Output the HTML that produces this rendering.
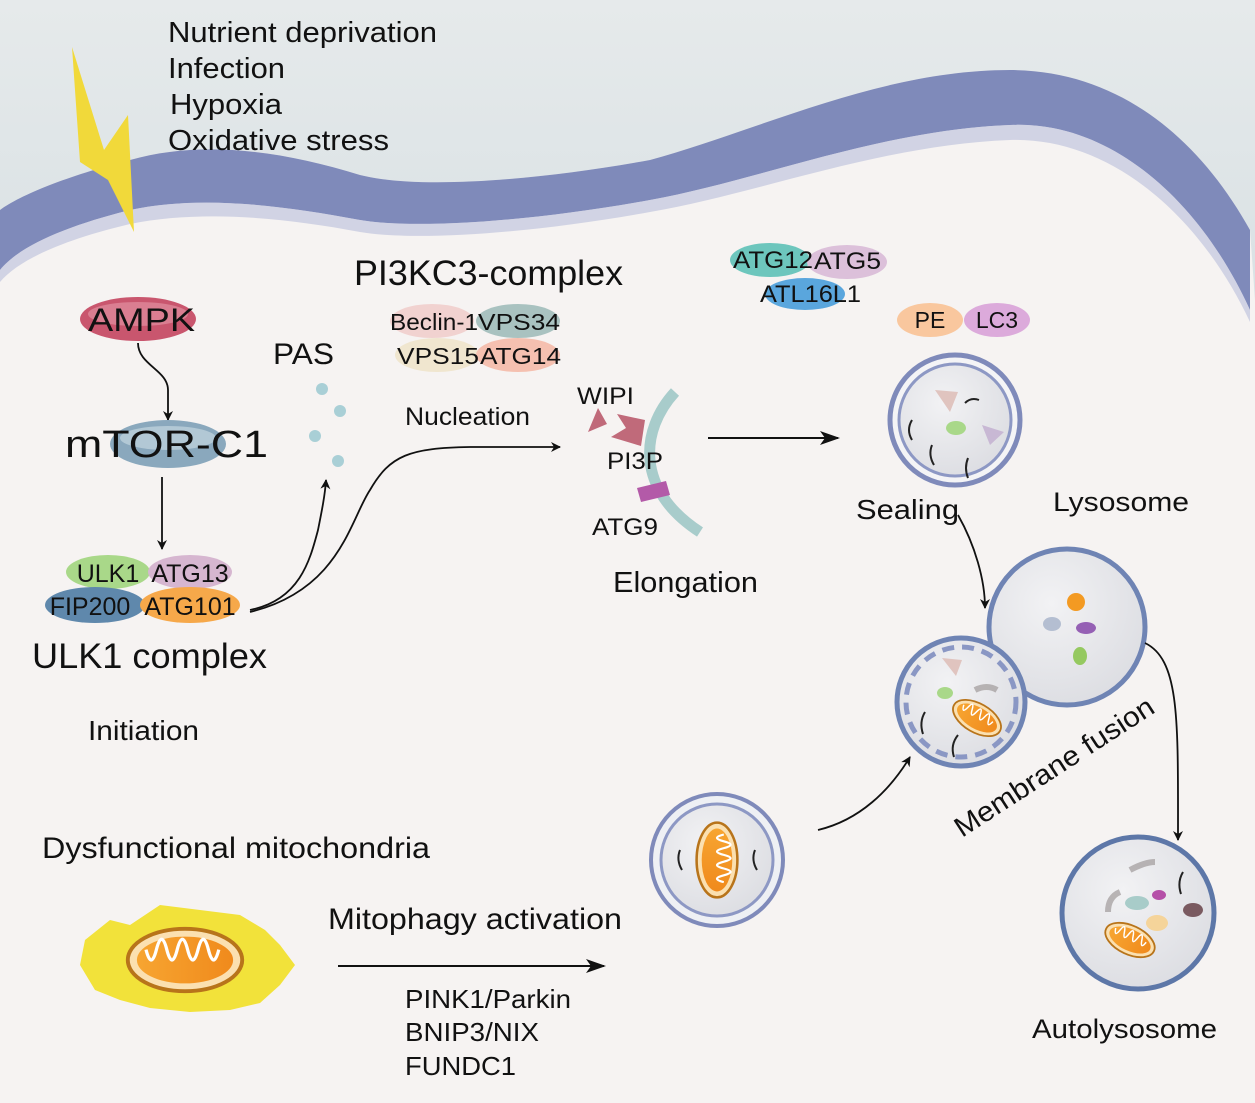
<!DOCTYPE html>
<html><head><meta charset="utf-8"><style>
html,body{margin:0;padding:0;background:#fff}
svg{display:block}
text{font-family:"Liberation Sans",sans-serif;fill:#111}
</style></head><body>
<svg width="1255" height="1103" viewBox="0 0 1255 1103" xmlns="http://www.w3.org/2000/svg">
<defs>
<radialGradient id="ves" cx="0.4" cy="0.35" r="0.7"><stop offset="0" stop-color="#f2f2f4"/><stop offset="1" stop-color="#dcdde2"/></radialGradient>
<linearGradient id="mito" x1="0" x2="1"><stop offset="0" stop-color="#f7a531"/><stop offset="1" stop-color="#f08a1c"/></linearGradient>
<linearGradient id="sky" x1="0" y1="0" x2="0" y2="1"><stop offset="0" stop-color="#e6eaeb"/><stop offset="1" stop-color="#d9e1e4"/></linearGradient>
<marker id="ar" markerWidth="10" markerHeight="10" refX="9" refY="5" orient="auto" markerUnits="userSpaceOnUse"><path d="M0,0 L10,5 L0,10 L3,5 Z" fill="#111"/></marker>
<marker id="ar2" markerWidth="20" markerHeight="14" refX="18" refY="7" orient="auto" markerUnits="userSpaceOnUse"><path d="M0,0 L20,7 L0,14 L5,7 Z" fill="#111"/></marker>
<g id="mt"><ellipse cx="0" cy="0" rx="44" ry="24" fill="#fbe0b0" stroke="#b8741a" stroke-width="3"/><ellipse cx="0" cy="0" rx="37" ry="18" fill="url(#mito)"/><path d="M-30,-8 q4,16 8,0 q4,-16 8,0 q4,16 8,0 q4,-16 8,0 q4,16 8,0 q4,-16 8,0 q4,16 8,0" fill="none" stroke="#fff" stroke-width="2.5"/></g>
</defs>
<rect width="1255" height="1103" fill="#f6f3f2"/>
<path d="M0,0 H1255 V300 L1250,230 C1200,140 1120,70 1010,70 C880,70 760,130 650,160 C540,180 420,190 360,175 C280,150 200,140 130,160 C70,175 20,195 0,210 Z" fill="url(#sky)"/>
<path d="M0,210 C20,195 70,175 130,160 C200,140 280,150 360,175 C420,190 540,180 650,160 C760,130 880,70 1010,70 C1120,70 1200,140 1250,230 L1250,310 C1200,200 1110,120 1010,125 C880,130 760,180 650,200 C540,220 420,230 360,220 C280,205 200,195 130,210 C70,225 20,245 0,270 Z" fill="#7f8aba"/>
<path d="M0,270 C20,245 70,225 130,210 C200,195 280,205 360,220 C420,230 540,220 650,200 C760,180 880,130 1010,125 C1110,120 1200,200 1250,310 L1250,322 C1200,215 1110,137 1010,140 C880,145 760,193 650,212 C540,232 420,242 360,232 C280,217 200,210 130,224 C70,238 20,258 0,282 Z" fill="#b9bedb" opacity="0.6"/>
<polygon points="72,47 104,150 128,115 134,232 108,180 80,162" fill="#f1d93a"/>
<text x="168" y="42" font-size="29" textLength="269" lengthAdjust="spacingAndGlyphs">Nutrient deprivation</text>
<text x="168" y="78" font-size="29" textLength="117" lengthAdjust="spacingAndGlyphs">Infection</text>
<text x="170" y="114" font-size="29" textLength="112" lengthAdjust="spacingAndGlyphs">Hypoxia</text>
<text x="168" y="150" font-size="29" textLength="221" lengthAdjust="spacingAndGlyphs">Oxidative stress</text>

<ellipse cx="138" cy="319" rx="58" ry="22" fill="#c9566e"/>
<ellipse cx="138" cy="314" rx="50" ry="12" fill="#e69aa8" opacity="0.6"/>
<text x="88" y="331" font-size="32" textLength="107" lengthAdjust="spacingAndGlyphs">AMPK</text>
<path d="M138,343 C138,365 168,370 168,390 L168,420" fill="none" stroke="#111" stroke-width="1.8" marker-end="url(#ar)"/>
<ellipse cx="168" cy="444" rx="58" ry="24" fill="#8aa8bd"/>
<ellipse cx="168" cy="438" rx="48" ry="12" fill="#c3d5e0" opacity="0.7"/>
<text x="65" y="457" font-size="38" textLength="203" lengthAdjust="spacingAndGlyphs">mTOR-C1</text>
<line x1="162" y1="477" x2="162" y2="549" stroke="#111" stroke-width="1.8" marker-end="url(#ar)"/>
<ellipse cx="108" cy="572" rx="42" ry="17" fill="#a9d889"/>
<ellipse cx="190" cy="572" rx="42" ry="17" fill="#d6b6d0"/>
<ellipse cx="95" cy="605" rx="50" ry="18" fill="#5f88ac"/>
<ellipse cx="190" cy="605" rx="50" ry="18" fill="#f6a84a"/>
<text x="108" y="582" font-size="25" text-anchor="middle">ULK1</text>
<text x="190" y="582" font-size="25" text-anchor="middle">ATG13</text>
<text x="90" y="615" font-size="25" text-anchor="middle">FIP200</text>
<text x="190" y="615" font-size="25" text-anchor="middle">ATG101</text>
<text x="32" y="668" font-size="35" textLength="235" lengthAdjust="spacingAndGlyphs">ULK1 complex</text>
<text x="88" y="740" font-size="28" textLength="111" lengthAdjust="spacingAndGlyphs">Initiation</text>
<text x="273" y="364" font-size="30" textLength="61" lengthAdjust="spacingAndGlyphs">PAS</text>
<circle cx="322" cy="389" r="6" fill="#a9cfd6"/>
<circle cx="340" cy="411" r="6" fill="#a9cfd6"/>
<circle cx="315" cy="436" r="6" fill="#a9cfd6"/>
<circle cx="338" cy="461" r="6" fill="#a9cfd6"/>
<path d="M250,610 C300,600 310,560 318,530 C322,510 325,495 326,480" fill="none" stroke="#111" stroke-width="1.8" marker-end="url(#ar)"/>
<path d="M250,612 C340,590 350,520 370,490 C390,455 410,448 470,447 L560,447" fill="none" stroke="#111" stroke-width="1.8" marker-end="url(#ar)"/>
<text x="354" y="285" font-size="35" textLength="269" lengthAdjust="spacingAndGlyphs">PI3KC3-complex</text>
<ellipse cx="432" cy="321" rx="42" ry="17" fill="#f1d2d0"/>
<ellipse cx="518" cy="321" rx="42" ry="17" fill="#a9c2c0"/>
<ellipse cx="437" cy="355" rx="42" ry="17" fill="#f0e6cf"/>
<ellipse cx="518" cy="355" rx="42" ry="17" fill="#f5c0b0"/>
<text x="390" y="330" font-size="23" textLength="88" lengthAdjust="spacingAndGlyphs">Beclin-1</text>
<text x="478" y="330" font-size="23" textLength="82" lengthAdjust="spacingAndGlyphs">VPS34</text>
<text x="397" y="364" font-size="23" textLength="82" lengthAdjust="spacingAndGlyphs">VPS15</text>
<text x="480" y="364" font-size="23" textLength="81" lengthAdjust="spacingAndGlyphs">ATG14</text>
<text x="405" y="425" font-size="25" textLength="125" lengthAdjust="spacingAndGlyphs">Nucleation</text>
<path d="M675,392 C640,430 635,490 700,532" fill="none" stroke="#a8cccb" stroke-width="11"/>
<polygon points="598,408 588,432 607,424" fill="#c06a7a"/>
<polygon points="617,414 645,420 641,446 611,437 626,428" fill="#c06a7a"/>
<polygon points="637,488 666,481 670,495 641,502" fill="#b35aa8"/>
<text x="577" y="404" font-size="24" textLength="57" lengthAdjust="spacingAndGlyphs">WIPI</text>
<text x="607" y="469" font-size="24" textLength="56" lengthAdjust="spacingAndGlyphs">PI3P</text>
<text x="592" y="535" font-size="24" textLength="66" lengthAdjust="spacingAndGlyphs">ATG9</text>
<text x="613" y="592" font-size="29" textLength="145" lengthAdjust="spacingAndGlyphs">Elongation</text>
<line x1="708" y1="438" x2="838" y2="438" stroke="#111" stroke-width="2" marker-end="url(#ar2)"/>
<ellipse cx="770" cy="260" rx="40" ry="17" fill="#6dc6bd"/>
<ellipse cx="847" cy="262" rx="40" ry="17" fill="#dcc0da"/>
<ellipse cx="805" cy="294" rx="40" ry="16" fill="#5aa6dd"/>
<text x="733" y="268" font-size="24" textLength="80" lengthAdjust="spacingAndGlyphs">ATG12</text>
<text x="814" y="269" font-size="24" textLength="67" lengthAdjust="spacingAndGlyphs">ATG5</text>
<text x="760" y="302" font-size="24" textLength="101" lengthAdjust="spacingAndGlyphs">ATL16L1</text>
<ellipse cx="930" cy="320" rx="33" ry="17" fill="#f9c79e"/>
<ellipse cx="997" cy="320" rx="33" ry="17" fill="#dcaadb"/>
<text x="930" y="328" font-size="23" text-anchor="middle">PE</text>
<text x="997" y="328" font-size="23" text-anchor="middle">LC3</text>
<circle cx="955" cy="420" r="65" fill="#f4f4f6" stroke="#7f8aba" stroke-width="5"/>
<circle cx="955" cy="420" r="56" fill="url(#ves)" stroke="#8d98c4" stroke-width="3"/>
<polygon points="935,390 958,392 950,412" fill="#e0c4bf"/>
<polygon points="982,425 1004,432 990,445" fill="#c8b8d4"/>
<ellipse cx="956" cy="428" rx="10" ry="7" fill="#a9d889"/>
<path d="M965,403 q6,-6 14,-3" fill="none" stroke="#222" stroke-width="2"/>
<path d="M912,420 q-6,10 0,20" fill="none" stroke="#222" stroke-width="2"/>
<path d="M932,445 q-4,10 2,20" fill="none" stroke="#222" stroke-width="2"/>
<path d="M968,458 q-4,10 0,20" fill="none" stroke="#222" stroke-width="2"/>
<text x="856" y="519" font-size="28" textLength="103" lengthAdjust="spacingAndGlyphs">Sealing</text>
<text x="1053" y="511" font-size="27" textLength="136" lengthAdjust="spacingAndGlyphs">Lysosome</text>
<path d="M958,515 C975,545 985,580 985,608" fill="none" stroke="#111" stroke-width="1.8" marker-end="url(#ar)"/>
<circle cx="1067" cy="627" r="78" fill="url(#ves)" stroke="#6f84b4" stroke-width="5"/>
<circle cx="961" cy="702" r="64" fill="url(#ves)" stroke="#6f84b4" stroke-width="5"/>
<circle cx="961" cy="702" r="55" fill="none" stroke="#8a97c4" stroke-width="5" stroke-dasharray="12,8"/>
<circle cx="1076" cy="602" r="9" fill="#f39a22"/>
<ellipse cx="1052" cy="624" rx="9" ry="7" fill="#b4bed1"/>
<ellipse cx="1086" cy="628" rx="10" ry="6" fill="#9560b4"/>
<ellipse cx="1080" cy="656" rx="7" ry="9" fill="#95c960"/>
<polygon points="942,658 962,660 956,676" fill="#e0c4bf"/>
<ellipse cx="945" cy="693" rx="8" ry="6" fill="#a9d889"/>
<path d="M975,690 q12,-6 22,0" stroke="#a09a9a" stroke-width="6" fill="none" opacity="0.7"/>
<g transform="translate(977,718) rotate(30) scale(0.6)"><use href="#mt"/></g>
<path d="M925,712 q-6,10 -2,22" fill="none" stroke="#222" stroke-width="2"/>
<path d="M958,735 q-8,10 -4,22" fill="none" stroke="#222" stroke-width="2"/>
<text transform="translate(962,838) rotate(-33)" font-size="28" textLength="232" lengthAdjust="spacingAndGlyphs">Membrane fusion</text>
<path d="M1145,643 C1180,660 1178,720 1178,840" fill="none" stroke="#111" stroke-width="1.8" marker-end="url(#ar)"/>
<circle cx="1138" cy="913" r="76" fill="url(#ves)" stroke="#5d77a8" stroke-width="5"/>
<path d="M1130,870 q15,-8 25,-8" stroke="#a09a9a" stroke-width="6" fill="none" opacity="0.7"/>
<path d="M1108,912 q0,-15 12,-20" stroke="#a09a9a" stroke-width="6" fill="none" opacity="0.7"/>
<ellipse cx="1137" cy="903" rx="12" ry="7" fill="#a8ccc9"/>
<ellipse cx="1159" cy="895" rx="7" ry="5" fill="#b550a8"/>
<ellipse cx="1193" cy="910" rx="10" ry="7" fill="#7a5a60"/>
<ellipse cx="1157" cy="923" rx="11" ry="8" fill="#f5d49a"/>
<path d="M1183,872 q-6,10 -2,22" fill="none" stroke="#222" stroke-width="2"/>
<g transform="translate(1130,940) rotate(25) scale(0.6)"><use href="#mt"/></g>
<text x="1032" y="1038" font-size="27" textLength="185" lengthAdjust="spacingAndGlyphs">Autolysosome</text>
<text x="42" y="858" font-size="30" textLength="388" lengthAdjust="spacingAndGlyphs">Dysfunctional mitochondria</text>
<path d="M85,940 L110,920 L130,925 L160,905 L200,910 L240,915 L265,930 L280,945 L295,965 L280,985 L260,1003 L230,1010 L190,1012 L150,1008 L120,1000 L95,990 L80,965 Z" fill="#f2e23a"/>
<g transform="translate(185,960) scale(1.3)"><use href="#mt"/></g>
<text x="328" y="929" font-size="30" textLength="294" lengthAdjust="spacingAndGlyphs">Mitophagy activation</text>
<line x1="338" y1="966" x2="604" y2="966" stroke="#111" stroke-width="2" marker-end="url(#ar2)"/>
<text x="405" y="1008" font-size="26" textLength="166" lengthAdjust="spacingAndGlyphs">PINK1/Parkin</text>
<text x="405" y="1041" font-size="26" textLength="134" lengthAdjust="spacingAndGlyphs">BNIP3/NIX</text>
<text x="405" y="1075" font-size="26" textLength="111" lengthAdjust="spacingAndGlyphs">FUNDC1</text>
<circle cx="717" cy="860" r="66" fill="#eef0f4" stroke="#7f8aba" stroke-width="4"/>
<circle cx="717" cy="860" r="56" fill="url(#ves)" stroke="#8d98c4" stroke-width="3"/>
<g transform="translate(717,860) rotate(90) scale(0.85)"><use href="#mt"/></g>
<path d="M680,850 q-4,10 2,20" fill="none" stroke="#222" stroke-width="2"/>
<path d="M755,850 q-4,10 2,20" fill="none" stroke="#222" stroke-width="2"/>
<path d="M818,830 C860,820 890,790 910,757" fill="none" stroke="#111" stroke-width="1.8" marker-end="url(#ar)"/>
</svg>
</body></html>
